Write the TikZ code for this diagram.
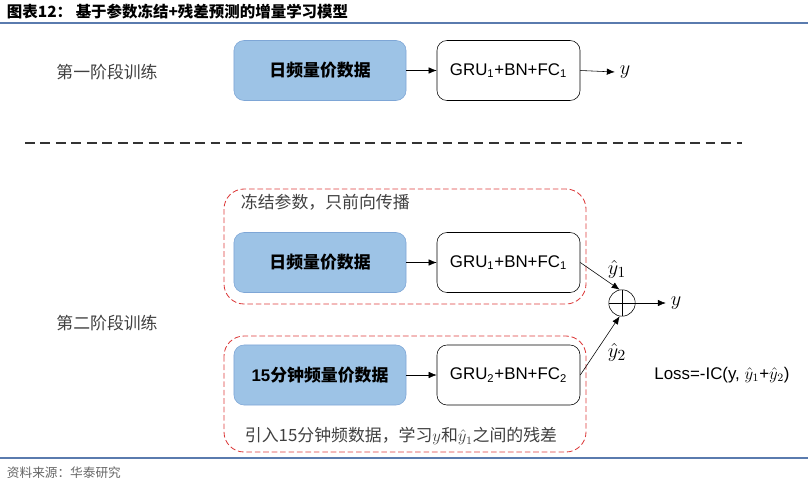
\documentclass[tikz,border=0pt]{standalone}
\usepackage{fontspec}
\setmainfont{Liberation Sans}
\newfontfamily\cjk{Noto Sans CJK SC}
\usepackage{amsmath}
\usetikzlibrary{positioning}
\usetikzlibrary{shapes.geometric, arrows.meta}

\definecolor{boxblue}{HTML}{9DC3E6}
\definecolor{boxedge}{HTML}{7EA6D6}
\definecolor{framered}{HTML}{DC3C3C}
\definecolor{rulecol}{HTML}{5A7BAE}
\definecolor{notegray}{HTML}{404040}

\begin{document}
\begin{tikzpicture}[x=0.025cm, y=-0.025cm,
	>={Latex[length=2mm, width=1.6mm]},
	datanode/.style={rectangle, rounded corners=2.5mm, draw=boxedge, fill=boxblue, minimum width=4.3cm, minimum height=1.5cm, font=\fontsize{12}{14}\selectfont\bfseries},
	netnode/.style={rectangle, rounded corners=2.5mm, draw=black, fill=white, minimum width=3.575cm, minimum height=1.5cm, font=\fontsize{12}{14}\selectfont},
	sumnode/.style={circle, draw=black, minimum size=0.66cm, inner sep=0pt},
	labelnode/.style={font=\cjk\fontsize{12}{14}\selectfont, text=notegray},
	mathnode/.style={font=\fontsize{15}{17}\selectfont},
	framebox/.style={draw=framered, dash pattern=on 4pt off 2pt, line width=0.6pt, rounded corners=5mm},
	]
	\useasboundingbox (0,0) rectangle (808,486);

	% title and source
	\node[anchor=west, font=\cjk\bfseries\fontsize{11}{13}\selectfont] (title) at (2,12) {图表12：\ 基于参数冻结+残差预测的增量学习模型};
	\draw[rulecol, line width=1.5pt] (0,23) -- (808,23);
	\draw[rulecol, line width=1pt] (0,458) -- (808,458);
	\node[anchor=west, font=\cjk\fontsize{9}{11}\selectfont, text=black!60] (source) at (2,473) {资料来源：华泰研究};

	% Nodes
	\node[labelnode]                         (stage_one)      at (107, 72)    {第一阶段训练};
	\node[datanode]                          (daily_one)      at (320, 70.5)  {\cjk 日频量价数据};
	\node[netnode]                           (gru_one)        at (508.5, 70.5){GRU\textsubscript{1}+BN+FC\textsubscript{1}};
	\node[mathnode]                          (y_one)          at (625, 72)    {$y$};

	\draw[line width=1.4pt, dash pattern=on 7pt off 4pt, black!80] (25,143) -- (742,143);

	\draw[framebox] (224,189) rectangle (586,304);
	\draw[framebox] (224,336) rectangle (586,452);
	\node[labelnode, anchor=west]            (frozen_note)    at (236, 202)   {冻结参数，只前向传播};
	\node[datanode]                          (daily_two)      at (320, 262.5) {\cjk 日频量价数据};
	\node[netnode]                           (gru_two)        at (508.5, 262.5){GRU\textsubscript{1}+BN+FC\textsubscript{1}};

	\node[labelnode]                         (stage_two)      at (107, 323)   {第二阶段训练};
	\node[datanode]                          (minute_two)     at (320, 375)   {15{\cjk 分钟频量价数据}};
	\node[netnode]                           (gru_three)      at (508.5, 375) {GRU\textsubscript{2}+BN+FC\textsubscript{2}};
	\node[labelnode, anchor=west]            (residual_note)  at (240, 436)   {引入15分钟频数据，学习{\large$y$}和{\large$\hat{y}_1$}之间的残差};

	\node[sumnode]                           (sum)            at (622, 303)   {};
	\node[mathnode]                          (yhat_one)       at (617, 269)   {$\hat{y}_1$};
	\node[mathnode]                          (yhat_two)       at (617, 352)   {$\hat{y}_2$};
	\node[mathnode]                          (y_two)          at (676, 303)   {$y$};
	\node[font=\fontsize{12}{14}\selectfont] (loss)           at (722, 375)   {Loss=-IC(y, {\large$\hat{y}_1$}+{\large$\hat{y}_2$})};

	% Lines
	\draw[->] (daily_one.east)   -- (gru_one.west);
	\draw[->] (gru_one.east)     -- (y_one.west);
	\draw[->] (daily_two.east)   -- (gru_two.west);
	\draw[->] (minute_two.east)  -- (gru_three.west);
	\draw[->] (gru_two.east)     -- (sum.100);
	\draw[->] (gru_three.east)   -- (sum.260);
	\draw[->] (sum.east)         -- (y_two.west);
	\draw (sum.north) -- (sum.south);
	\draw (sum.west)  -- (sum.east);
\end{tikzpicture}
\end{document}
